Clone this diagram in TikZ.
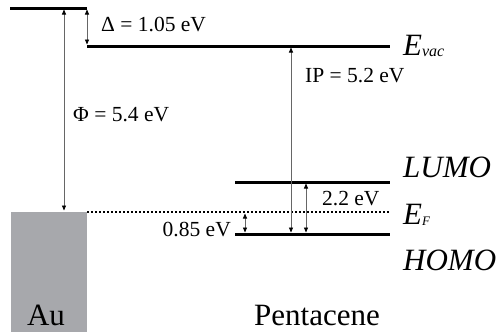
\documentclass[tikz,border=0pt]{standalone}
\usepackage{fontspec}
\setmainfont{Liberation Serif}
\usepackage{xcolor}
\usepackage{tikz}
\usetikzlibrary{arrows.meta,positioning}
\definecolor{augray}{RGB}{167,168,172}

\begin{document}
\begin{tikzpicture}[
  x=1pt, y=-1pt,
  level/.style={line width=3pt},
  fermi/.style={line width=2pt, dash pattern=on 2pt off 2pt},
  gap/.style={{Triangle[length=5pt,width=4pt,color=black]}-{Triangle[length=5pt,width=4pt,color=black]}, black!60, line width=0.8pt, shorten <=1.5pt, shorten >=1.5pt},
  lbl/.style={font=\fontsize{21.5}{24}\selectfont, inner sep=0pt},
  big/.style={font=\fontsize{31}{36}\selectfont\itshape, inner sep=0pt},
  matname/.style={font=\fontsize{31}{36}\selectfont, inner sep=0pt}
]
\useasboundingbox (0,0) rectangle (501,332);

% energy levels
\coordinate (au-l) at (10,8);   \coordinate (au-r) at (87,8);
\coordinate (vac-l) at (87,46); \coordinate (vac-r) at (390,46);
\coordinate (lumo-l) at (235,182); \coordinate (lumo-r) at (390,182);
\coordinate (homo-l) at (235,234); \coordinate (homo-r) at (390,234);
\coordinate (ef-l) at (87,212); \coordinate (ef-r) at (390,212);

\fill[augray] (11,212) rectangle (87,332);
\draw[level] (au-l) -- (au-r);
\draw[level] (vac-l) -- (vac-r);
\draw[level] (lumo-l) -- (lumo-r);
\draw[level] (homo-l) -- (homo-r);
\draw[fermi] (ef-l) -- (ef-r);

% gaps
\coordinate (phi-t) at (64,8);   \coordinate (phi-b) at (64,212);
\coordinate (dlt-t) at (87,8);   \coordinate (dlt-b) at (87,46);
\coordinate (ip-t) at (291,46);  \coordinate (ip-b) at (291,234);
\coordinate (eg-t) at (306,182); \coordinate (eg-b) at (306,234);
\coordinate (hb-t) at (245,212); \coordinate (hb-b) at (245,234);

\draw[gap] (phi-t) -- (phi-b);
\draw[gap] (dlt-t) -- (dlt-b);
\draw[gap] (ip-t) -- (ip-b);
\draw[gap] (eg-t) -- (eg-b);
\draw[gap] (hb-t) -- (hb-b);

\node[lbl, anchor=west] (dlt) at (101,25) {Δ = 1.05 eV};
\node[lbl, anchor=west] (phi) at (73,115) {Φ = 5.4 eV};
\node[lbl, anchor=west] (ip) at (305,76) {IP = 5.2 eV};
\node[lbl, anchor=west] (eg) at (322,199) {2.2 eV};
\node[lbl, anchor=east] (hb) at (231,230) {0.85 eV};

% level names
\node[big, right=13pt of vac-r] (evac) {E\raisebox{-1pt}{\fontsize{16}{16}\selectfont vac}};
\node[big, anchor=west] (lumo) at (403,167) {LUMO};
\node[big, right=13pt of ef-r, yshift=-3pt] (ef) {E\raisebox{-1pt}{\fontsize{13}{13}\selectfont F}};
\node[big, anchor=west] (homo) at (403,260) {HOMO};

\node[matname] (au) at (46,315) {Au};
\node[matname] (pent) at (317,315) {Pentacene};
\end{tikzpicture}
\end{document}
